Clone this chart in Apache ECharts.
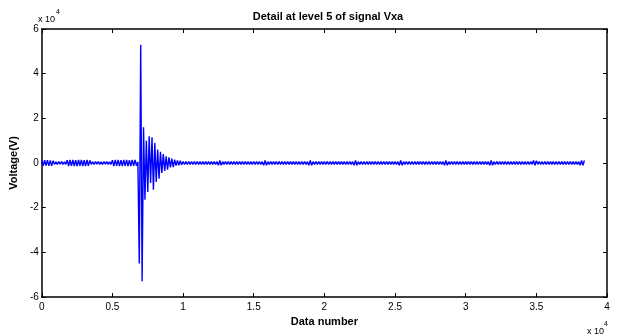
<!DOCTYPE html>
<html>
<head>
<meta charset="utf-8">
<script src="https://cdn.jsdelivr.net/npm/echarts@6/dist/echarts.min.js"></script>
<style>
  html, body { margin: 0; padding: 0; background: #fff; }
  #chart { width: 624px; height: 336px; }
</style>
</head>
<body>
<div id="chart"></div>
<script>
// x in units of 1e4 samples, one value every 100 samples; y in units of 1e4 V
const sampleStep = 0.01;

// before the event (0 .. 0.68)
const preEvent = [
    0.12, -0.13, 0.13, -0.12, 0.13, -0.13, 0.12, -0.13, 0.1,
    -0.06, 0.05, -0.06, 0.06, -0.05, 0.06, -0.06, 0.05, -0.06,
    0.13, -0.14, 0.14, -0.13, 0.14, -0.14, 0.13, -0.14, 0.14, -0.13, 0.14, -0.14, 0.13, -0.14, 0.14, -0.13, 0.12,
    -0.06, 0.05, -0.06, 0.06, -0.05, 0.06, -0.06, 0.05, -0.06, 0.06, -0.05, 0.06, -0.06, 0.05, -0.06,
    0.13, -0.14, 0.14, -0.13, 0.14, -0.14, 0.13, -0.14, 0.14, -0.13, 0.14, -0.14, 0.13, -0.14, 0.14, -0.13, 0.14, -0.12,
    0.05
];

// spike and decaying ringing (0.69 .. 0.99)
const eventPart = [
    -4.5, 5.3, -5.3,
    1.6, -1.65, 1.0, -1.3, 1.2, -0.9, 1.15, -1.2, 0.9, -0.85,
    0.6, -0.7, 0.5, -0.45, 0.4, -0.35, 0.3, -0.3, 0.25, -0.2,
    0.2, -0.18, 0.15, -0.12, 0.12, -0.1, 0.1, -0.08
];

// residual tail (1.00 .. 3.84)
const tail = [
    0.07, -0.07, 0.06, -0.07, 0.07, -0.06, 0.07, -0.07, 0.06, -0.06,
    0.06, -0.06, 0.06, -0.06, 0.06, -0.06, 0.06, -0.06, 0.06, -0.06,
    0.06, -0.06, 0.06, -0.06, 0.06, -0.1, 0.11, -0.1, 0.06, -0.06,
    0.06, -0.06, 0.06, -0.06, 0.06, -0.06, 0.06, -0.06, 0.06, -0.06,
    0.06, -0.06, 0.06, -0.06, 0.06, -0.06, 0.06, -0.06, 0.06, -0.06,
    0.06, -0.06, 0.06, -0.06, 0.06, -0.06, 0.06, -0.1, 0.11, -0.1,
    0.06, -0.06, 0.06, -0.06, 0.06, -0.06, 0.06, -0.06, 0.06, -0.06,
    0.06, -0.06, 0.06, -0.06, 0.06, -0.06, 0.06, -0.06, 0.06, -0.06,
    0.06, -0.06, 0.06, -0.06, 0.06, -0.06, 0.06, -0.06, 0.06, -0.1,
    0.11, -0.1, 0.06, -0.06, 0.06, -0.06, 0.06, -0.06, 0.06, -0.06,
    0.06, -0.06, 0.06, -0.06, 0.06, -0.06, 0.06, -0.06, 0.06, -0.06,
    0.06, -0.06, 0.06, -0.06, 0.06, -0.06, 0.06, -0.06, 0.06, -0.06,
    0.06, -0.1, 0.11, -0.1, 0.06, -0.06, 0.06, -0.06, 0.06, -0.06,
    0.06, -0.06, 0.06, -0.06, 0.06, -0.06, 0.06, -0.06, 0.06, -0.06,
    0.06, -0.06, 0.06, -0.06, 0.06, -0.06, 0.06, -0.06, 0.06, -0.06,
    0.06, -0.06, 0.06, -0.1, 0.11, -0.1, 0.06, -0.06, 0.06, -0.06,
    0.06, -0.06, 0.06, -0.06, 0.06, -0.06, 0.06, -0.06, 0.06, -0.06,
    0.06, -0.06, 0.06, -0.06, 0.06, -0.06, 0.06, -0.06, 0.06, -0.06,
    0.06, -0.06, 0.06, -0.06, 0.06, -0.1, 0.11, -0.1, 0.06, -0.06,
    0.06, -0.06, 0.06, -0.06, 0.06, -0.06, 0.06, -0.06, 0.06, -0.06,
    0.06, -0.06, 0.06, -0.06, 0.06, -0.06, 0.06, -0.06, 0.06, -0.06,
    0.06, -0.06, 0.06, -0.06, 0.06, -0.06, 0.06, -0.1, 0.11, -0.1,
    0.06, -0.06, 0.06, -0.06, 0.06, -0.06, 0.06, -0.06, 0.06, -0.06,
    0.06, -0.06, 0.06, -0.06, 0.06, -0.06, 0.06, -0.06, 0.06, -0.06,
    0.06, -0.06, 0.06, -0.06, 0.06, -0.06, 0.06, -0.06, 0.11, -0.1,
    0.1, -0.06, 0.06, -0.06, 0.06, -0.06, 0.06, -0.06, 0.06, -0.06,
    0.06, -0.06, 0.06, -0.06, 0.06, -0.06, 0.06, -0.06, 0.06, -0.06,
    0.06, -0.06, 0.06, -0.06, 0.06, -0.06, 0.06, -0.06, 0.06, -0.06,
    0.06, -0.1, 0.11, -0.1, 0.11
];

const xTicks = { min: 0, max: 4, interval: 0.5 };
const yTicks = { min: -6, max: 6, interval: 2 };

const voltage = preEvent.concat(eventPart, tail);
const points = voltage.map((v, i) => [i * sampleStep, v]);

const chart = echarts.init(document.getElementById('chart'), null, { renderer: 'canvas' });

const font = 'Liberation Sans, Arial, sans-serif';
const axisLine = { show: true, onZero: false, lineStyle: { color: '#000', width: 1.5 } };
const tickIn = { show: true, inside: true, length: 4, lineStyle: { color: '#000', width: 1 } };

chart.setOption({
    animation: false,
    backgroundColor: '#fff',
    title: {
        text: 'Detail at level 5 of signal Vxa',
        left: 323,
        textAlign: 'center',
        top: 6,
        textStyle: { fontFamily: font, fontSize: 11, fontWeight: 'bold', color: '#000' }
    },
    grid: { left: 40, right: 17, top: 29, bottom: 39, containLabel: false },
    xAxis: [
        {
            type: 'value',
            position: 'bottom',
            ...xTicks,
            axisLine: axisLine,
            axisTick: tickIn,
            splitLine: { show: false },
            axisLabel: { color: '#000', fontFamily: font, fontSize: 10, margin: 5 },
            name: 'Data number',
            nameLocation: 'middle',
            nameGap: 19,
            nameTextStyle: { color: '#000', fontFamily: font, fontSize: 11, fontWeight: 'bold' }
        },
        {
            type: 'value',
            position: 'top',
            ...xTicks,
            axisLine: axisLine,
            axisTick: tickIn,
            splitLine: { show: false },
            axisLabel: { show: false }
        }
    ],
    yAxis: [
        {
            type: 'value',
            position: 'left',
            ...yTicks,
            axisLine: axisLine,
            axisTick: tickIn,
            splitLine: { show: false },
            axisLabel: { color: '#000', fontFamily: font, fontSize: 10, margin: 3 },
            name: 'Voltage(V)',
            nameLocation: 'middle',
            nameGap: 19,
            nameRotate: 90,
            nameTextStyle: { color: '#000', fontFamily: font, fontSize: 11, fontWeight: 'bold' }
        },
        {
            type: 'value',
            position: 'right',
            ...yTicks,
            axisLine: axisLine,
            axisTick: tickIn,
            splitLine: { show: false },
            axisLabel: { show: false }
        }
    ],
    series: [
        {
            type: 'line',
            data: points,
            showSymbol: false,
            sampling: null,
            lineStyle: { color: '#0000ff', width: 1.4 },
            xAxisIndex: 0,
            yAxisIndex: 0,
            z: 1
        }
    ],
    graphic: [
        // exponent markers
        { type: 'text', left: 38, top: 15, style: { text: 'x 10', fontFamily: font, fontSize: 9, fill: '#000' } },
        { type: 'text', left: 56, top: 9, style: { text: '4', fontFamily: font, fontSize: 7, fill: '#000' } },
        { type: 'text', left: 587, top: 327, style: { text: 'x 10', fontFamily: font, fontSize: 9, fill: '#000' } },
        { type: 'text', left: 604, top: 321, style: { text: '4', fontFamily: font, fontSize: 7, fill: '#000' } }
    ]
});
</script>
</body>
</html>
